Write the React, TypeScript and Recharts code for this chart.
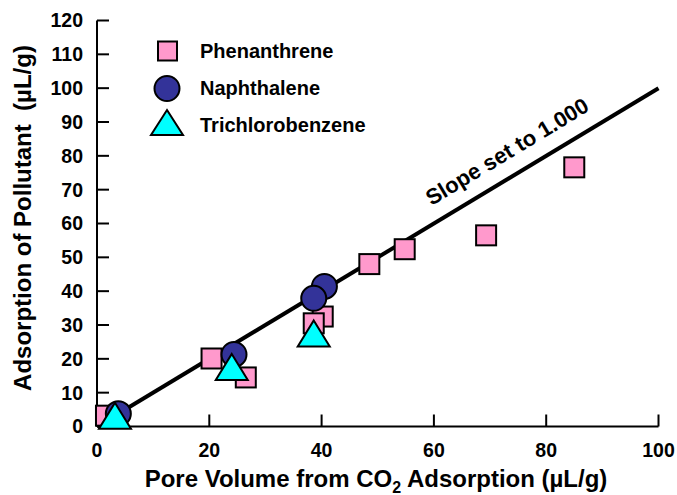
import { ReferenceLine, Scatter, ScatterChart, XAxis, YAxis } from "recharts";

const phenanthrene = [
  { x: 1.6, y: 3.2 },
  { x: 20.4, y: 20.1 },
  { x: 26.5, y: 14.5 },
  { x: 40.2, y: 32.5 },
  { x: 38.6, y: 30.5 },
  { x: 48.5, y: 48 },
  { x: 54.8, y: 52.4 },
  { x: 69.3, y: 56.5 },
  { x: 85, y: 76.6 },
];

const naphthalene = [
  { x: 3.8, y: 3.8 },
  { x: 24.4, y: 21.3 },
  { x: 40.5, y: 41.4 },
  { x: 38.6, y: 37.9 },
];

const trichlorobenzene = [
  { x: 3.2, y: 3.2 },
  { x: 24, y: 17.6 },
  { x: 38.6, y: 27.5 },
];

const slopeLine = [
  { x: 0, y: 0 },
  { x: 100, y: 100 },
];

const xTicks = [0, 20, 40, 60, 80, 100];
const yTicks = [0, 10, 20, 30, 40, 50, 60, 70, 80, 90, 100, 110, 120];

const font = '"Liberation Sans", Arial, Helvetica, sans-serif';
const PINK = "#FF99CC";
const NAVY = "#333399";
const CYAN = "#00FFFF";

const tickStyle = { fontSize: 19.5, fontWeight: "bold", fill: "#000", fontFamily: font };
const axisLine = { stroke: "#000", strokeWidth: 2 };

const Square = (p: any) => (
  <rect x={p.cx - 10} y={p.cy - 10} width={20} height={20} fill={PINK} stroke="#000" strokeWidth={2} />
);
const Circle = (p: any) => <circle cx={p.cx} cy={p.cy} r={12.5} fill={NAVY} stroke="#000" strokeWidth={2} />;
const Triangle = (p: any) => (
  <polygon
    points={`${p.cx},${p.cy - 13} ${p.cx + 16},${p.cy + 13} ${p.cx - 16},${p.cy + 13}`}
    fill={CYAN}
    stroke="#000"
    strokeWidth={2}
  />
);

export default function App() {
  return (
    <div style={{ position: "absolute", left: 0, top: 0, width: 677, height: 495, background: "#fff" }}>
      <ScatterChart width={677} height={495} margin={{ top: 20.5, right: 18.5, bottom: 38.5, left: 37 }}>
        <XAxis
          type="number"
          dataKey="x"
          domain={[0, 100]}
          ticks={xTicks}
          interval={0}
          height={30}
          axisLine={axisLine}
          tickLine={axisLine}
          tickSize={-12}
          tickMargin={28.5}
          tick={tickStyle}
        />
        <XAxis
          xAxisId="top"
          orientation="top"
          type="number"
          domain={[0, 100]}
          ticks={xTicks}
          interval={0}
          height={0}
          axisLine={axisLine}
          tickLine={axisLine}
          tickSize={-12}
          tick={false}
        />
        <YAxis
          type="number"
          dataKey="y"
          domain={[0, 120]}
          ticks={yTicks}
          interval={0}
          width={60}
          axisLine={axisLine}
          tickLine={axisLine}
          tickSize={-12}
          tickMargin={26}
          tick={tickStyle}
        />
        <YAxis
          yAxisId="right"
          orientation="right"
          type="number"
          domain={[0, 120]}
          ticks={yTicks}
          interval={0}
          width={0}
          axisLine={axisLine}
          tickLine={axisLine}
          tickSize={-12}
          tick={false}
        />
        <ReferenceLine segment={slopeLine} stroke="#000" strokeWidth={4} />
        <Scatter data={phenanthrene} shape={Square} isAnimationActive={false} />
        <Scatter data={naphthalene} shape={Circle} isAnimationActive={false} />
        <Scatter data={trichlorobenzene} shape={Triangle} isAnimationActive={false} />
      </ScatterChart>
      <svg
        width={677}
        height={495}
        style={{ position: "absolute", left: 0, top: 0, pointerEvents: "none" }}
        fontFamily={font}
        fontWeight="bold"
      >
        {/* legend */}
        <rect x={158} y={41.5} width={19} height={19} fill={PINK} stroke="#000" strokeWidth={2} />
        <text x={200} y={58} fontSize={20}>Phenanthrene</text>
        <circle cx={167} cy={88.5} r={12.5} fill={NAVY} stroke="#000" strokeWidth={2} />
        <text x={200} y={95} fontSize={20}>Naphthalene</text>
        <polygon points="167,110 183,135 151,135" fill={CYAN} stroke="#000" strokeWidth={2} />
        <text x={200} y={132} fontSize={20}>Trichlorobenzene</text>

        <text x={511} y={158} fontSize={22} textAnchor="middle" transform="rotate(-31.07 511 158)">
          Slope set to 1.000
        </text>

        <text transform="translate(31 218) rotate(-90)" fontSize={24} textAnchor="middle">
          {"Adsorption of Pollutant\u00a0 (µL/g)"}
        </text>
        <text x={376} y={487} fontSize={24} textAnchor="middle">
          Pore Volume from CO
          <tspan fontSize={16} dy={6}>2</tspan>
          <tspan dy={-6}> Adsorption (µL/g)</tspan>
        </text>
      </svg>
    </div>
  );
}
